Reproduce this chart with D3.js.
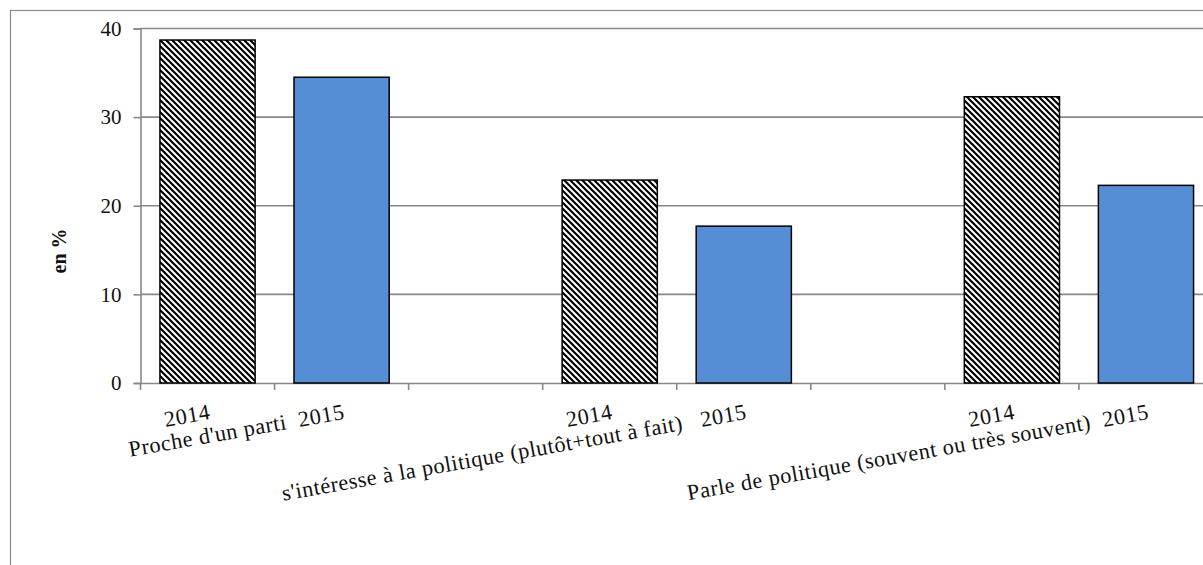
<!DOCTYPE html>
<html>
<head>
<meta charset="utf-8">
<script src="https://cdn.jsdelivr.net/npm/d3@7"></script>
<style>
  html, body { margin: 0; padding: 0; background: #fff; }
  svg { display: block; }
</style>
</head>
<body>
<div id="chart"></div>
<script>
// ---- data ----
const categories = [
  "2014",
  "Proche d'un parti  2015",
  "",
  "2014",
  "s'intéresse à la politique (plutôt+tout à fait)   2015",
  "",
  "2014",
  "Parle de politique (souvent ou très souvent)  2015"
];
const years = ["2014", "2015", "", "2014", "2015", "", "2014", "2015"];
const values = [38.7, 34.5, null, 22.9, 17.7, null, 32.3, 22.3];
const yTicks = [0, 10, 20, 30, 40];
const yLabel = "en %";

const FONT = "Liberation Serif";

// ---- layout ----
const W = 1203, H = 565;
const plot = { left: 140.5, top: 28.5, bottom: 383, right: 1213 };

const svg = d3.select("#chart").append("svg")
  .attr("width", W).attr("height", H);

// hatch pattern
const defs = svg.append("defs");
const pat = defs.append("pattern")
  .attr("id", "hatch")
  .attr("patternUnits", "userSpaceOnUse")
  .attr("width", 6).attr("height", 6);
pat.append("rect").attr("width", 6).attr("height", 6).attr("fill", "#fff");
pat.append("path")
  .attr("d", "M-1,-1 L7,7 M-1,5 L1,7 M5,-1 L7,1")
  .attr("stroke", "#000").attr("stroke-width", 2.2);

// outer chart border
svg.append("rect")
  .attr("x", 10.5).attr("y", 10.5)
  .attr("width", W + 20).attr("height", H + 20)
  .attr("fill", "none").attr("stroke", "#888").attr("stroke-width", 1.2);

const x = d3.scaleBand()
  .domain(d3.range(categories.length))
  .range([plot.left, plot.right])
  .padding(0);

const y = d3.scaleLinear()
  .domain([0, 40])
  .range([plot.bottom, plot.top]);

// gridlines
svg.append("g")
  .selectAll("line")
  .data(yTicks.filter(d => d > 0))
  .join("line")
  .attr("x1", plot.left).attr("x2", W + 10)
  .attr("y1", d => y(d)).attr("y2", d => y(d))
  .attr("stroke", "#888").attr("stroke-width", 1.6);

// y axis
const yAxis = d3.axisLeft(y).tickValues(yTicks).tickSize(7).tickPadding(12);
const gy = svg.append("g")
  .attr("transform", `translate(${plot.left},0)`)
  .call(yAxis);
gy.select(".domain").attr("stroke", "#888").attr("stroke-width", 1.6);
gy.selectAll(".tick line").attr("stroke", "#888").attr("stroke-width", 1.6);
gy.selectAll(".tick text")
  .attr("fill", "#111")
  .style("font-family", FONT)
  .style("font-size", "21px");

// x axis
const xAxis = d3.axisBottom(x).tickSize(0).tickFormat("");
const gx = svg.append("g")
  .attr("transform", `translate(0,${plot.bottom})`)
  .call(xAxis);
gx.select(".domain").attr("stroke", "#888").attr("stroke-width", 1.6);
gx.selectAll(".tick").remove();
// category boundary ticks
const bounds = d3.range(categories.length + 1).map(i => plot.left + i * x.step());
gx.selectAll("line.bt")
  .data(bounds)
  .join("line")
  .attr("class", "bt")
  .attr("x1", d => d).attr("x2", d => d)
  .attr("y1", 0).attr("y2", 7)
  .attr("stroke", "#888").attr("stroke-width", 1.6);

// bars
const barW = x.bandwidth() * 0.71;
svg.append("g")
  .selectAll("rect")
  .data(values.map((v, i) => ({ v, i })).filter(d => d.v != null))
  .join("rect")
  .attr("x", d => x(d.i) + (x.bandwidth() - barW) / 2)
  .attr("width", barW)
  .attr("y", d => y(d.v))
  .attr("height", d => y(0) - y(d.v))
  .attr("fill", d => years[d.i] === "2014" ? "url(#hatch)" : "#558ed5")
  .attr("stroke", "#000")
  .attr("stroke-width", 1.5);

// category labels (rotated)
svg.append("g")
  .selectAll("text")
  .data(categories.map((c, i) => ({ c, i })).filter(d => d.c !== ""))
  .join("text")
  .attr("transform", d => `translate(${x(d.i) + x.bandwidth() / 2 + 1},403) rotate(-10)`)
  .attr("text-anchor", "end")
  .attr("dy", "0.72em")
  .attr("xml:space", "preserve")
  .style("white-space", "pre")
  .style("font-family", FONT)
  .style("font-size", "22.3px")
  .style("letter-spacing", "0.5px")
  .attr("fill", "#111")
  .text(d => d.c);

// y label
svg.append("text")
  .attr("transform", "translate(66,251) rotate(-90)")
  .attr("text-anchor", "middle")
  .style("font-family", FONT)
  .style("font-size", "20px")
  .style("font-weight", "bold")
  .attr("fill", "#111")
  .text(yLabel);
</script>
</body>
</html>
